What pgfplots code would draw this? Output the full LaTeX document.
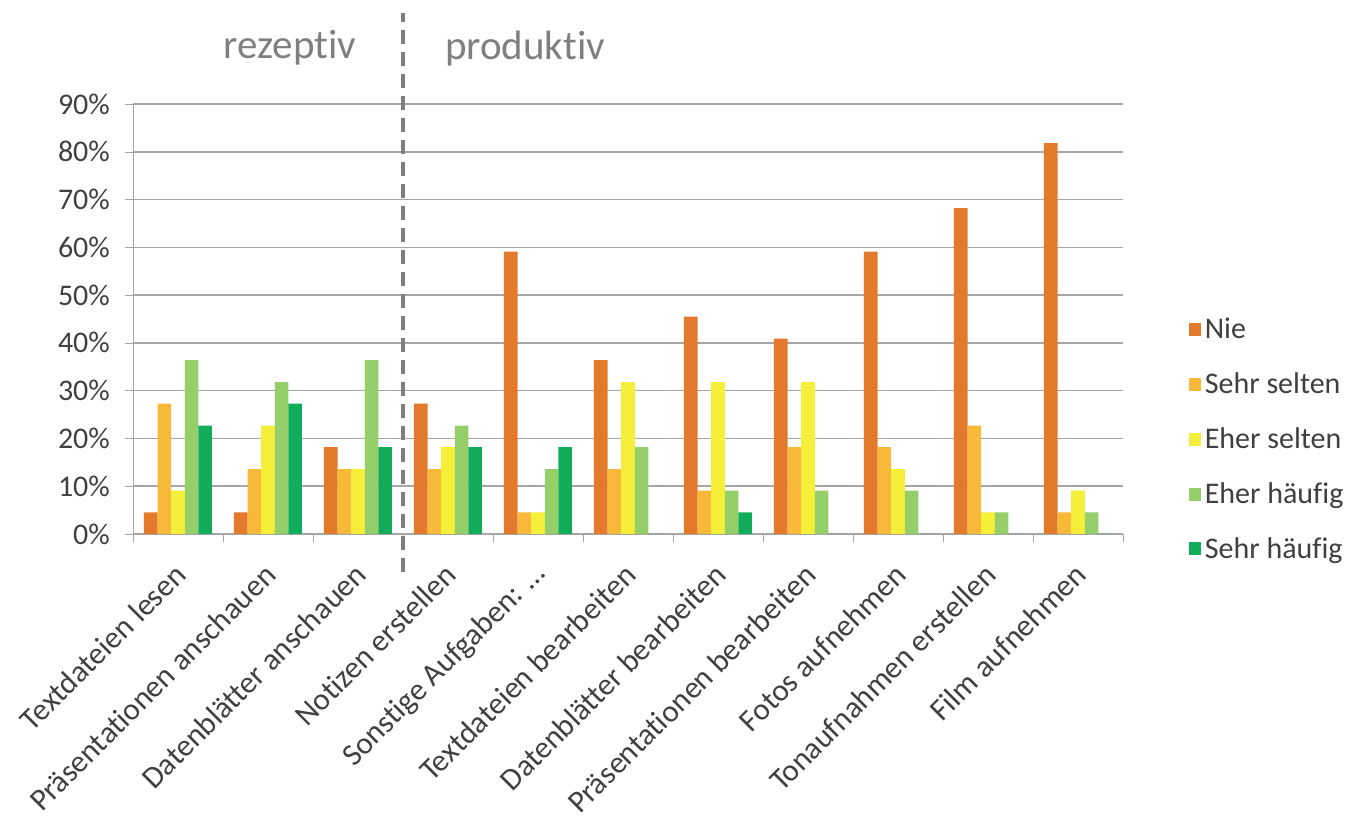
\documentclass[border=0pt]{standalone}
\usepackage{pgfplots}
\pgfplotsset{compat=1.18}
\usepackage{fontspec}
\setmainfont{Carlito}[Ligatures=NoCommon]
\definecolor{cNie}{HTML}{E3792B}
\definecolor{cSs}{HTML}{F8B83A}
\definecolor{cEs}{HTML}{F5EF3A}
\definecolor{cEh}{HTML}{94CF6A}
\definecolor{cSh}{HTML}{12AD5A}
\definecolor{txt}{HTML}{404040}
\definecolor{gridc}{HTML}{A6A6A6}
\definecolor{headc}{HTML}{7F7F7F}
\begin{document}
\begin{tikzpicture}
\begin{axis}[
  scale only axis,
  width=495pt, height=215pt,
  ybar=0pt, bar width=6.8pt,
  xmin=-0.5, xmax=10.5,
  ymin=0, ymax=90,
  clip=false,
  axis line style={gridc},
  axis x line*=bottom, axis y line*=left,
  ytick={0,10,20,30,40,50,60,70,80,90},
  yticklabels={0\%,10\%,20\%,30\%,40\%,50\%,60\%,70\%,80\%,90\%},
  ymajorgrids, grid style={gridc, line width=0.8pt},
  xtick={0,1,2,3,4,5,6,7,8,9,10},
  xticklabels={Textdateien lesen, Präsentationen anschauen, Datenblätter anschauen, Notizen erstellen, {Sonstige Aufgaben: …}, Textdateien bearbeiten, Datenblätter bearbeiten, Präsentationen bearbeiten, Fotos aufnehmen, Tonaufnahmen erstellen, Film aufnehmen},
  x tick label style={rotate=45, anchor=east, font=\fontsize{15.5}{18}\selectfont, text=txt, xshift=-5.3pt, yshift=-10.6pt},
  y tick label style={font=\fontsize{15}{18}\selectfont, text=txt, xshift=-4pt},
  major x tick style={draw=none},
  minor xtick={-0.5,0.5,1.5,2.5,3.5,4.5,5.5,6.5,7.5,8.5,9.5,10.5},
  minor x tick style={gridc},
  minor tick length=4pt,
  major tick length=4pt,
  tick align=outside,
  ytick style={gridc},
  legend style={draw=none, at={(1.06,0.219)}, anchor=west, font=\fontsize{15}{18}\selectfont, text=txt, row sep=11.5pt, cells={anchor=west}},
  legend image code/.code={\fill[#1] (0pt,-3pt) rectangle (6pt,3.5pt);},
]
\addplot[fill=cNie, draw=none] coordinates {(0,4.5) (1,4.5) (2,18.2) (3,27.3) (4,59.1) (5,36.4) (6,45.5) (7,40.9) (8,59.1) (9,68.2) (10,81.8)};
\addplot[fill=cSs, draw=none] coordinates {(0,27.3) (1,13.6) (2,13.6) (3,13.6) (4,4.5) (5,13.6) (6,9.1) (7,18.2) (8,18.2) (9,22.7) (10,4.5)};
\addplot[fill=cEs, draw=none] coordinates {(0,9.1) (1,22.7) (2,13.6) (3,18.2) (4,4.5) (5,31.8) (6,31.8) (7,31.8) (8,13.6) (9,4.5) (10,9.1)};
\addplot[fill=cEh, draw=none] coordinates {(0,36.4) (1,31.8) (2,36.4) (3,22.7) (4,13.6) (5,18.2) (6,9.1) (7,9.1) (8,9.1) (9,4.5) (10,4.5)};
\addplot[fill=cSh, draw=none] coordinates {(0,22.7) (1,27.3) (2,18.2) (3,18.2) (4,18.2) (5,0) (6,4.5) (7,0) (8,0) (9,0) (10,0)};
\legend{Nie, Sehr selten, Eher selten, Eher häufig, Sehr häufig}
\draw[headc, line width=2pt, dash pattern=on 7pt off 4pt] (axis cs:2.5,-8) -- (axis cs:2.5,109);
\node[headc, font=\fontsize{20.5}{24}\selectfont] at (axis cs:1.244,101.7) {rezeptiv};
\node[headc, font=\fontsize{20.5}{24}\selectfont] at (axis cs:3.856,101.7) {produktiv};
\path (rel axis cs:-0.1343,-0.6628) rectangle (rel axis cs:1.2394,1.2419);
\end{axis}
\end{tikzpicture}
\end{document}
